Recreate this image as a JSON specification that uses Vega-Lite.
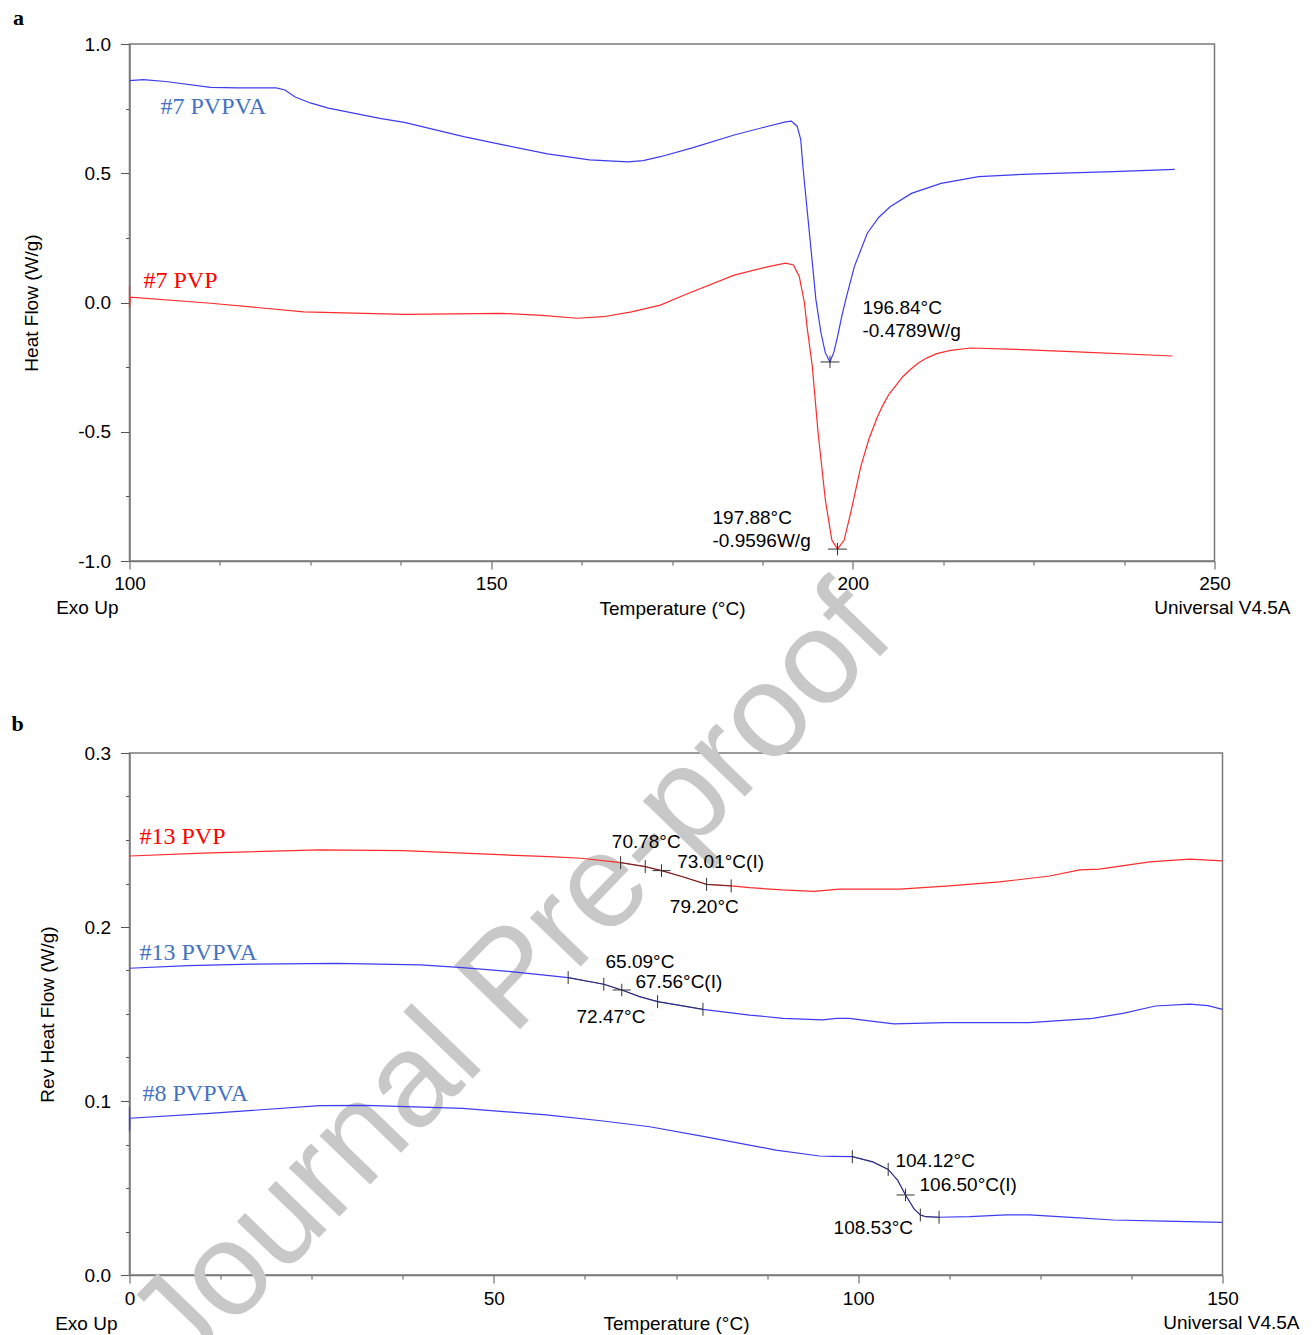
{
  "$schema": "https://vega.github.io/schema/vega-lite/v6.json",
  "padding": {"left": 10.5, "top": 6, "right": 5, "bottom": 0},
  "bounds": "flush",
  "spacing": 192,
  "resolve": {"scale": {"color": "independent"}},
  "config": {
    "font": "Liberation Sans",
    "view": {"stroke": "#7a7a7a", "strokeWidth": 1.5},
    "axis": {
      "domainColor": "#7a7a7a", "domainWidth": 1.5,
      "tickColor": "#555555", "tickWidth": 1,
      "labelFont": "Liberation Sans", "labelFontSize": 19, "labelColor": "#000000",
      "titleFont": "Liberation Sans", "titleFontSize": 19, "titleFontWeight": "normal", "titleColor": "#000000",
      "grid": false, "labelFlush": false, "labelOverlap": false
    }
  },
  "datasets": {
    "a": [
      {"s":"#7 PVPVA","T":100.0,"v":0.858},{"s":"#7 PVPVA","T":101.9,"v":0.862},{"s":"#7 PVPVA","T":105.0,"v":0.855},
      {"s":"#7 PVPVA","T":111.2,"v":0.832},{"s":"#7 PVPVA","T":115.0,"v":0.830},{"s":"#7 PVPVA","T":120.3,"v":0.830},
      {"s":"#7 PVPVA","T":121.5,"v":0.822},{"s":"#7 PVPVA","T":122.9,"v":0.795},{"s":"#7 PVPVA","T":125.0,"v":0.772},
      {"s":"#7 PVPVA","T":127.5,"v":0.752},{"s":"#7 PVPVA","T":134.6,"v":0.712},{"s":"#7 PVPVA","T":138.0,"v":0.697},
      {"s":"#7 PVPVA","T":146.2,"v":0.642},{"s":"#7 PVPVA","T":152.0,"v":0.608},{"s":"#7 PVPVA","T":157.8,"v":0.575},
      {"s":"#7 PVPVA","T":163.6,"v":0.552},{"s":"#7 PVPVA","T":168.9,"v":0.544},{"s":"#7 PVPVA","T":171.0,"v":0.549},
      {"s":"#7 PVPVA","T":173.4,"v":0.564},{"s":"#7 PVPVA","T":177.8,"v":0.598},{"s":"#7 PVPVA","T":183.6,"v":0.648},
      {"s":"#7 PVPVA","T":188.0,"v":0.680},{"s":"#7 PVPVA","T":190.7,"v":0.699},{"s":"#7 PVPVA","T":191.5,"v":0.702},
      {"s":"#7 PVPVA","T":192.3,"v":0.682},{"s":"#7 PVPVA","T":192.8,"v":0.630},{"s":"#7 PVPVA","T":193.1,"v":0.525},
      {"s":"#7 PVPVA","T":194.0,"v":0.268},{"s":"#7 PVPVA","T":194.9,"v":0.010},{"s":"#7 PVPVA","T":195.6,"v":-0.118},
      {"s":"#7 PVPVA","T":196.2,"v":-0.195},{"s":"#7 PVPVA","T":196.84,"v":-0.230},{"s":"#7 PVPVA","T":197.4,"v":-0.190},
      {"s":"#7 PVPVA","T":197.9,"v":-0.130},{"s":"#7 PVPVA","T":198.5,"v":-0.050},{"s":"#7 PVPVA","T":199.1,"v":0.020},
      {"s":"#7 PVPVA","T":200.2,"v":0.138},{"s":"#7 PVPVA","T":202.0,"v":0.268},{"s":"#7 PVPVA","T":203.6,"v":0.330},
      {"s":"#7 PVPVA","T":205.2,"v":0.371},{"s":"#7 PVPVA","T":208.1,"v":0.422},{"s":"#7 PVPVA","T":212.2,"v":0.461},
      {"s":"#7 PVPVA","T":217.4,"v":0.487},{"s":"#7 PVPVA","T":224.4,"v":0.497},{"s":"#7 PVPVA","T":236.0,"v":0.506},
      {"s":"#7 PVPVA","T":244.5,"v":0.515},
      {"s":"#7 PVP","T":100.0,"v":0.064},{"s":"#7 PVP","T":100.0,"v":-0.021},{"s":"#7 PVP","T":100.1,"v":0.021},
      {"s":"#7 PVP","T":111.2,"v":-0.003},{"s":"#7 PVP","T":124.1,"v":-0.036},{"s":"#7 PVP","T":138.0,"v":-0.046},
      {"s":"#7 PVP","T":151.4,"v":-0.042},{"s":"#7 PVP","T":157.0,"v":-0.050},{"s":"#7 PVP","T":161.9,"v":-0.061},
      {"s":"#7 PVP","T":165.5,"v":-0.055},{"s":"#7 PVP","T":169.4,"v":-0.036},{"s":"#7 PVP","T":173.4,"v":-0.010},
      {"s":"#7 PVP","T":176.7,"v":0.029},{"s":"#7 PVP","T":183.6,"v":0.106},{"s":"#7 PVP","T":188.5,"v":0.140},
      {"s":"#7 PVP","T":190.7,"v":0.152},{"s":"#7 PVP","T":191.8,"v":0.145},{"s":"#7 PVP","T":192.6,"v":0.100},
      {"s":"#7 PVP","T":193.3,"v":0.000},{"s":"#7 PVP","T":193.7,"v":-0.100},{"s":"#7 PVP","T":194.4,"v":-0.248},
      {"s":"#7 PVP","T":195.2,"v":-0.505},{"s":"#7 PVP","T":196.2,"v":-0.764},{"s":"#7 PVP","T":197.1,"v":-0.919},
      {"s":"#7 PVP","T":197.88,"v":-0.954},{"s":"#7 PVP","T":198.8,"v":-0.919},{"s":"#7 PVP","T":199.7,"v":-0.814},
      {"s":"#7 PVP","T":200.4,"v":-0.725},{"s":"#7 PVP","T":201.1,"v":-0.635},{"s":"#7 PVP","T":202.2,"v":-0.530},
      {"s":"#7 PVP","T":203.4,"v":-0.442},{"s":"#7 PVP","T":204.2,"v":-0.395},{"s":"#7 PVP","T":205.0,"v":-0.355},
      {"s":"#7 PVP","T":206.9,"v":-0.287},{"s":"#7 PVP","T":208.0,"v":-0.258},{"s":"#7 PVP","T":209.0,"v":-0.235},
      {"s":"#7 PVP","T":210.2,"v":-0.215},{"s":"#7 PVP","T":211.6,"v":-0.198},{"s":"#7 PVP","T":213.5,"v":-0.185},
      {"s":"#7 PVP","T":216.3,"v":-0.176},{"s":"#7 PVP","T":221.5,"v":-0.180},
      {"s":"#7 PVP","T":230.2,"v":-0.190},{"s":"#7 PVP","T":244.2,"v":-0.207}
    ],
    "ma": [
      {"s":"#7 PVPVA","T":196.84,"v":-0.230,"txt":"196.84°C\n-0.4789W/g"},
      {"s":"#7 PVP","T":197.88,"v":-0.954,"txt":"197.88°C\n-0.9596W/g"}
    ],
    "b": [
      {"s":"#13 PVP","T":0,"v":0.2408},{"s":"#13 PVP","T":10,"v":0.2425},{"s":"#13 PVP","T":26.1,"v":0.2443},
      {"s":"#13 PVP","T":37.6,"v":0.2439},{"s":"#13 PVP","T":51.5,"v":0.2414},{"s":"#13 PVP","T":57.6,"v":0.2405},
      {"s":"#13 PVP","T":62.0,"v":0.2395},{"s":"#13 PVP","T":67.4,"v":0.2370},{"s":"#13 PVP","T":70.78,"v":0.2347},
      {"s":"#13 PVP","T":73.01,"v":0.2324},{"s":"#13 PVP","T":75.9,"v":0.2289},{"s":"#13 PVP","T":79.2,"v":0.2245},
      {"s":"#13 PVP","T":82.57,"v":0.2236},{"s":"#13 PVP","T":85.1,"v":0.2226},{"s":"#13 PVP","T":89.6,"v":0.2213},
      {"s":"#13 PVP","T":93.9,"v":0.2205},{"s":"#13 PVP","T":97.4,"v":0.2218},{"s":"#13 PVP","T":105.7,"v":0.2218},
      {"s":"#13 PVP","T":112.5,"v":0.2236},{"s":"#13 PVP","T":119.4,"v":0.2259},{"s":"#13 PVP","T":126.3,"v":0.2293},
      {"s":"#13 PVP","T":130.4,"v":0.2328},{"s":"#13 PVP","T":133.1,"v":0.2333},{"s":"#13 PVP","T":140.0,"v":0.2374},
      {"s":"#13 PVP","T":145.5,"v":0.2390},{"s":"#13 PVP","T":150.0,"v":0.2380},
      {"s":"#13 PVPVA","T":0,"v":0.1763},{"s":"#13 PVPVA","T":8,"v":0.1778},{"s":"#13 PVPVA","T":16.8,"v":0.1787},
      {"s":"#13 PVPVA","T":28.4,"v":0.1791},{"s":"#13 PVPVA","T":39.9,"v":0.1782},{"s":"#13 PVPVA","T":45.7,"v":0.1766},
      {"s":"#13 PVPVA","T":52.0,"v":0.1745},{"s":"#13 PVPVA","T":57.6,"v":0.1720},{"s":"#13 PVPVA","T":60.2,"v":0.1709},
      {"s":"#13 PVPVA","T":65.09,"v":0.1671},{"s":"#13 PVPVA","T":67.56,"v":0.1638},{"s":"#13 PVPVA","T":70.0,"v":0.1600},
      {"s":"#13 PVPVA","T":72.47,"v":0.1571},{"s":"#13 PVPVA","T":75.5,"v":0.1550},{"s":"#13 PVPVA","T":78.7,"v":0.1527},
      {"s":"#13 PVPVA","T":85.1,"v":0.1494},{"s":"#13 PVPVA","T":89.7,"v":0.1475},{"s":"#13 PVPVA","T":95.1,"v":0.1466},
      {"s":"#13 PVPVA","T":97.0,"v":0.1475},{"s":"#13 PVPVA","T":98.8,"v":0.1475},{"s":"#13 PVPVA","T":101.5,"v":0.1460},
      {"s":"#13 PVPVA","T":104.9,"v":0.1443},{"s":"#13 PVPVA","T":111.9,"v":0.1450},{"s":"#13 PVPVA","T":123.5,"v":0.1450},
      {"s":"#13 PVPVA","T":132.2,"v":0.1475},{"s":"#13 PVPVA","T":136.5,"v":0.1505},{"s":"#13 PVPVA","T":140.8,"v":0.1546},
      {"s":"#13 PVPVA","T":145.5,"v":0.1557},{"s":"#13 PVPVA","T":148.0,"v":0.1548},{"s":"#13 PVPVA","T":150.0,"v":0.1527},
      {"s":"#8 PVPVA","T":0,"v":0.0966},{"s":"#8 PVPVA","T":0,"v":0.0828},{"s":"#8 PVPVA","T":0.05,"v":0.0901},
      {"s":"#8 PVPVA","T":11.0,"v":0.0929},{"s":"#8 PVPVA","T":26.1,"v":0.0973},{"s":"#8 PVPVA","T":32.4,"v":0.0975},
      {"s":"#8 PVPVA","T":45.7,"v":0.0958},{"s":"#8 PVPVA","T":57.2,"v":0.0920},{"s":"#8 PVPVA","T":65.0,"v":0.0885},
      {"s":"#8 PVPVA","T":71.4,"v":0.0852},{"s":"#8 PVPVA","T":78.9,"v":0.0795},{"s":"#8 PVPVA","T":88.7,"v":0.0718},
      {"s":"#8 PVPVA","T":94.7,"v":0.0684},{"s":"#8 PVPVA","T":96.5,"v":0.0682},{"s":"#8 PVPVA","T":99.2,"v":0.0680},
      {"s":"#8 PVPVA","T":102.0,"v":0.0650},{"s":"#8 PVPVA","T":104.12,"v":0.0607},{"s":"#8 PVPVA","T":105.4,"v":0.0546},
      {"s":"#8 PVPVA","T":106.5,"v":0.0460},{"s":"#8 PVPVA","T":107.7,"v":0.0378},{"s":"#8 PVPVA","T":108.53,"v":0.0345},
      {"s":"#8 PVPVA","T":109.3,"v":0.0335},{"s":"#8 PVPVA","T":111.1,"v":0.0332},{"s":"#8 PVPVA","T":115.3,"v":0.0335},
      {"s":"#8 PVPVA","T":120.3,"v":0.0345},{"s":"#8 PVPVA","T":123.5,"v":0.0345},{"s":"#8 PVPVA","T":129.2,"v":0.0331},
      {"s":"#8 PVPVA","T":135.0,"v":0.0316},{"s":"#8 PVPVA","T":142.0,"v":0.0310},{"s":"#8 PVPVA","T":150.0,"v":0.0303}
    ],
    "mb": [
      {"s":"#13 PVP","T":67.4,"v":0.2370,"k":"tick","txt":""},
      {"s":"#13 PVP","T":70.78,"v":0.2347,"k":"tick","txt":"70.78°C"},
      {"s":"#13 PVP","T":73.01,"v":0.2324,"k":"cross","txt":"73.01°C(I)"},
      {"s":"#13 PVP","T":79.2,"v":0.2245,"k":"tick","txt":"79.20°C"},
      {"s":"#13 PVP","T":82.57,"v":0.2236,"k":"tick","txt":""},
      {"s":"#13 PVPVA","T":60.2,"v":0.1709,"k":"tick","txt":""},
      {"s":"#13 PVPVA","T":65.09,"v":0.1671,"k":"tick","txt":"65.09°C"},
      {"s":"#13 PVPVA","T":67.56,"v":0.1638,"k":"cross","txt":"67.56°C(I)"},
      {"s":"#13 PVPVA","T":72.47,"v":0.1571,"k":"tick","txt":"72.47°C"},
      {"s":"#13 PVPVA","T":78.7,"v":0.1527,"k":"tick","txt":""},
      {"s":"#8 PVPVA","T":99.2,"v":0.0680,"k":"tick","txt":""},
      {"s":"#8 PVPVA","T":104.12,"v":0.0607,"k":"tick","txt":"104.12°C"},
      {"s":"#8 PVPVA","T":106.5,"v":0.0460,"k":"cross","txt":"106.50°C(I)"},
      {"s":"#8 PVPVA","T":108.53,"v":0.0345,"k":"tick","txt":"108.53°C"},
      {"s":"#8 PVPVA","T":111.1,"v":0.0332,"k":"tick","txt":""}
    ]
  },
  "vconcat": [
    {
      "width": 1085,
      "height": 517,
      "layer": [
        {
          "data": {"name": "a"},
          "mark": {"type": "line", "strokeWidth": 1.2},
          "encoding": {
            "x": {"field": "T", "type": "quantitative",
              "scale": {"domain": [100, 250], "nice": false, "zero": false},
              "axis": {"title": "Temperature (°C)", "format": "d",
                "values": [100, 112.5, 125, 137.5, 150, 162.5, 175, 187.5, 200, 212.5, 225, 237.5, 250],
                "labelExpr": "datum.value % 50 === 0 ? datum.label : ''",
                "tickSize": {"condition": {"test": "datum.value % 50 === 0", "value": 8}, "value": 4},
                "labelPadding": 5, "titlePadding": 6}},
            "y": {"field": "v", "type": "quantitative",
              "scale": {"domain": [-1, 1], "nice": false, "zero": false},
              "axis": {"title": "Heat Flow (W/g)", "format": ".1f",
                "values": [-1, -0.875, -0.75, -0.625, -0.5, -0.375, -0.25, -0.125, 0, 0.125, 0.25, 0.375, 0.5, 0.625, 0.75, 0.875, 1],
                "labelExpr": "abs(datum.value*2 - round(datum.value*2)) < 0.000001 ? replace(datum.label, '−', '-') : ''",
                "tickSize": {"condition": {"test": "abs(datum.value*2 - round(datum.value*2)) < 0.000001", "value": 9}, "value": 4},
                "labelPadding": 10, "titlePadding": 36}},
            "color": {"field": "s", "type": "nominal",
              "scale": {"domain": ["#7 PVPVA", "#7 PVP"], "range": ["#3c3cf2", "#ff2b2b"]}, "legend": null}
          }
        },
        {
          "data": {"name": "ma"},
          "mark": {"type": "point", "shape": "M-1,0H1M0,-0.65V0.65", "filled": false, "size": 361, "color": "#333333", "strokeWidth": 1, "opacity": 1},
          "encoding": {
            "x": {"field": "T", "type": "quantitative"},
            "y": {"field": "v", "type": "quantitative"}
          }
        },
        {
          "data": {"name": "ma"},
          "transform": [{"filter": "datum.T === 196.84"}],
          "mark": {"type": "text", "align": "left", "baseline": "middle", "lineBreak": "\n", "lineHeight": 23, "fontSize": 19, "color": "#000000", "dx": 32.5, "dy": -54},
          "encoding": {
            "x": {"field": "T", "type": "quantitative"},
            "y": {"field": "v", "type": "quantitative"},
            "text": {"field": "txt"}
          }
        },
        {
          "data": {"name": "ma"},
          "transform": [{"filter": "datum.T === 197.88"}],
          "mark": {"type": "text", "align": "left", "baseline": "middle", "lineBreak": "\n", "lineHeight": 23, "fontSize": 19, "color": "#000000", "dx": -125, "dy": -31},
          "encoding": {
            "x": {"field": "T", "type": "quantitative"},
            "y": {"field": "v", "type": "quantitative"},
            "text": {"field": "txt"}
          }
        },
        {
          "data": {"values": [{}]},
          "mark": {"type": "text", "align": "left", "baseline": "middle", "font": "Liberation Serif", "fontSize": 24, "color": "#4472c4", "dx": 31},
          "encoding": {
            "x": {"datum": 100, "type": "quantitative"},
            "y": {"datum": 0.756, "type": "quantitative"},
            "text": {"value": "#7 PVPVA"}
          }
        },
        {
          "data": {"values": [{}]},
          "mark": {"type": "text", "align": "left", "baseline": "middle", "font": "Liberation Serif", "fontSize": 24, "color": "#ff0000", "dx": 14},
          "encoding": {
            "x": {"datum": 100, "type": "quantitative"},
            "y": {"datum": 0.083, "type": "quantitative"},
            "text": {"value": "#7 PVP"}
          }
        },
        {
          "data": {"values": [{}]},
          "mark": {"type": "text", "align": "right", "baseline": "middle", "fontSize": 19, "color": "#000000", "dx": -11, "dy": 47},
          "encoding": {
            "x": {"datum": 100, "type": "quantitative"},
            "y": {"datum": -1, "type": "quantitative"},
            "text": {"value": "Exo Up"}
          }
        },
        {
          "data": {"values": [{}]},
          "mark": {"type": "text", "align": "right", "baseline": "middle", "fontSize": 19, "color": "#000000", "dx": 76, "dy": 47},
          "encoding": {
            "x": {"datum": 250, "type": "quantitative"},
            "y": {"datum": -1, "type": "quantitative"},
            "text": {"value": "Universal V4.5A"}
          }
        },
        {
          "data": {"values": [{}]},
          "mark": {"type": "text", "align": "center", "baseline": "middle", "font": "Liberation Serif", "fontWeight": "bold", "fontSize": 22, "color": "#000000", "dx": -111, "dy": -26},
          "encoding": {
            "x": {"datum": 100, "type": "quantitative"},
            "y": {"datum": 1, "type": "quantitative"},
            "text": {"value": "a"}
          }
        }
      ]
    },
    {
      "width": 1093,
      "height": 522,
      "layer": [
        {
          "data": {"values": [{}]},
          "mark": {"type": "text", "align": "center", "baseline": "middle", "fontSize": 133, "color": "#c8c8c8", "angle": -46},
          "encoding": {
            "x": {"datum": 52.5, "type": "quantitative"},
            "y": {"datum": 0.1695, "type": "quantitative"},
            "text": {"value": "Journal Pre-proof"}
          }
        },
        {
          "data": {"name": "b"},
          "mark": {"type": "line", "strokeWidth": 1.2},
          "encoding": {
            "x": {"field": "T", "type": "quantitative",
              "scale": {"domain": [0, 150], "nice": false, "zero": false},
              "axis": {"title": "Temperature (°C)", "format": "d",
                "values": [0, 12.5, 25, 37.5, 50, 62.5, 75, 87.5, 100, 112.5, 125, 137.5, 150],
                "labelExpr": "datum.value % 50 === 0 ? datum.label : ''",
                "tickSize": {"condition": {"test": "datum.value % 50 === 0", "value": 8}, "value": 4},
                "labelPadding": 6, "titlePadding": 6}},
            "y": {"field": "v", "type": "quantitative",
              "scale": {"domain": [0, 0.3], "nice": false, "zero": false},
              "axis": {"title": "Rev Heat Flow (W/g)", "format": ".1f",
                "values": [0, 0.025, 0.05, 0.075, 0.1, 0.125, 0.15, 0.175, 0.2, 0.225, 0.25, 0.275, 0.3],
                "labelExpr": "abs(datum.value*10 - round(datum.value*10)) < 0.000001 ? datum.label : ''",
                "tickSize": {"condition": {"test": "abs(datum.value*10 - round(datum.value*10)) < 0.000001", "value": 9}, "value": 4},
                "labelPadding": 10, "titlePadding": 27}},
            "color": {"field": "s", "type": "nominal",
              "scale": {"domain": ["#13 PVP", "#13 PVPVA", "#8 PVPVA"], "range": ["#ff2b2b", "#3c3cf2", "#3c3cf2"]}, "legend": null}
          }
        },
        {
          "data": {"name": "b"},
          "transform": [{"filter": "(datum.s === '#13 PVP' && datum.T >= 67.4 && datum.T <= 82.57) || (datum.s === '#13 PVPVA' && datum.T >= 60.2 && datum.T <= 78.7) || (datum.s === '#8 PVPVA' && datum.T >= 99.2 && datum.T <= 111.1)"}],
          "mark": {"type": "line", "strokeWidth": 1, "color": "#2a2a2a", "opacity": 0.75},
          "encoding": {
            "x": {"field": "T", "type": "quantitative"},
            "y": {"field": "v", "type": "quantitative"},
            "detail": {"field": "s", "type": "nominal"}
          }
        },
        {
          "data": {"name": "mb"},
          "transform": [{"filter": "datum.k === 'tick'"}],
          "mark": {"type": "point", "shape": "M0,-1V1", "filled": false, "size": 169, "color": "#333333", "strokeWidth": 1, "opacity": 1},
          "encoding": {
            "x": {"field": "T", "type": "quantitative"},
            "y": {"field": "v", "type": "quantitative"}
          }
        },
        {
          "data": {"name": "mb"},
          "transform": [{"filter": "datum.k === 'cross'"}],
          "mark": {"type": "point", "shape": "M-1,0H1M0,-0.7V0.7", "filled": false, "size": 324, "color": "#333333", "strokeWidth": 1, "opacity": 1},
          "encoding": {
            "x": {"field": "T", "type": "quantitative"},
            "y": {"field": "v", "type": "quantitative"}
          }
        },
        {
          "data": {"name": "mb"},
          "transform": [{"filter": "datum.T === 70.78"}],
          "mark": {"type": "text", "align": "center", "baseline": "middle", "fontSize": 19, "color": "#000000", "dx": 1, "dy": -25},
          "encoding": {"x": {"field": "T", "type": "quantitative"}, "y": {"field": "v", "type": "quantitative"}, "text": {"field": "txt"}}
        },
        {
          "data": {"name": "mb"},
          "transform": [{"filter": "datum.T === 73.01"}],
          "mark": {"type": "text", "align": "left", "baseline": "middle", "fontSize": 19, "color": "#000000", "dx": 15.7, "dy": -9},
          "encoding": {"x": {"field": "T", "type": "quantitative"}, "y": {"field": "v", "type": "quantitative"}, "text": {"field": "txt"}}
        },
        {
          "data": {"name": "mb"},
          "transform": [{"filter": "datum.T === 79.2"}],
          "mark": {"type": "text", "align": "center", "baseline": "middle", "fontSize": 19, "color": "#000000", "dx": -2.3, "dy": 22.3},
          "encoding": {"x": {"field": "T", "type": "quantitative"}, "y": {"field": "v", "type": "quantitative"}, "text": {"field": "txt"}}
        },
        {
          "data": {"name": "mb"},
          "transform": [{"filter": "datum.T === 65.09"}],
          "mark": {"type": "text", "align": "center", "baseline": "middle", "fontSize": 19, "color": "#000000", "dx": 36.2, "dy": -22.5},
          "encoding": {"x": {"field": "T", "type": "quantitative"}, "y": {"field": "v", "type": "quantitative"}, "text": {"field": "txt"}}
        },
        {
          "data": {"name": "mb"},
          "transform": [{"filter": "datum.T === 67.56"}],
          "mark": {"type": "text", "align": "left", "baseline": "middle", "fontSize": 19, "color": "#000000", "dx": 13.7, "dy": -8.3},
          "encoding": {"x": {"field": "T", "type": "quantitative"}, "y": {"field": "v", "type": "quantitative"}, "text": {"field": "txt"}}
        },
        {
          "data": {"name": "mb"},
          "transform": [{"filter": "datum.T === 72.47"}],
          "mark": {"type": "text", "align": "center", "baseline": "middle", "fontSize": 19, "color": "#000000", "dx": -46.6, "dy": 15.1},
          "encoding": {"x": {"field": "T", "type": "quantitative"}, "y": {"field": "v", "type": "quantitative"}, "text": {"field": "txt"}}
        },
        {
          "data": {"name": "mb"},
          "transform": [{"filter": "datum.T === 104.12"}],
          "mark": {"type": "text", "align": "left", "baseline": "middle", "fontSize": 19, "color": "#000000", "dx": 7.3, "dy": -8.7},
          "encoding": {"x": {"field": "T", "type": "quantitative"}, "y": {"field": "v", "type": "quantitative"}, "text": {"field": "txt"}}
        },
        {
          "data": {"name": "mb"},
          "transform": [{"filter": "datum.T === 106.5"}],
          "mark": {"type": "text", "align": "left", "baseline": "middle", "fontSize": 19, "color": "#000000", "dx": 14, "dy": -10},
          "encoding": {"x": {"field": "T", "type": "quantitative"}, "y": {"field": "v", "type": "quantitative"}, "text": {"field": "txt"}}
        },
        {
          "data": {"name": "mb"},
          "transform": [{"filter": "datum.T === 108.53"}],
          "mark": {"type": "text", "align": "center", "baseline": "middle", "fontSize": 19, "color": "#000000", "dx": -47, "dy": 13.3},
          "encoding": {"x": {"field": "T", "type": "quantitative"}, "y": {"field": "v", "type": "quantitative"}, "text": {"field": "txt"}}
        },
        {
          "data": {"values": [{}]},
          "mark": {"type": "text", "align": "left", "baseline": "middle", "font": "Liberation Serif", "fontSize": 24, "color": "#ff0000", "dx": 10},
          "encoding": {
            "x": {"datum": 0, "type": "quantitative"},
            "y": {"datum": 0.2517, "type": "quantitative"},
            "text": {"value": "#13 PVP"}
          }
        },
        {
          "data": {"values": [{}]},
          "mark": {"type": "text", "align": "left", "baseline": "middle", "font": "Liberation Serif", "fontSize": 24, "color": "#4472c4", "dx": 10},
          "encoding": {
            "x": {"datum": 0, "type": "quantitative"},
            "y": {"datum": 0.1851, "type": "quantitative"},
            "text": {"value": "#13 PVPVA"}
          }
        },
        {
          "data": {"values": [{}]},
          "mark": {"type": "text", "align": "left", "baseline": "middle", "font": "Liberation Serif", "fontSize": 24, "color": "#4472c4", "dx": 13},
          "encoding": {
            "x": {"datum": 0, "type": "quantitative"},
            "y": {"datum": 0.104, "type": "quantitative"},
            "text": {"value": "#8 PVPVA"}
          }
        },
        {
          "data": {"values": [{}]},
          "mark": {"type": "text", "align": "right", "baseline": "middle", "fontSize": 19, "color": "#000000", "dx": -12, "dy": 49},
          "encoding": {
            "x": {"datum": 0, "type": "quantitative"},
            "y": {"datum": 0, "type": "quantitative"},
            "text": {"value": "Exo Up"}
          }
        },
        {
          "data": {"values": [{}]},
          "mark": {"type": "text", "align": "right", "baseline": "middle", "fontSize": 19, "color": "#000000", "dx": 77, "dy": 48},
          "encoding": {
            "x": {"datum": 150, "type": "quantitative"},
            "y": {"datum": 0, "type": "quantitative"},
            "text": {"value": "Universal V4.5A"}
          }
        },
        {
          "data": {"values": [{}]},
          "mark": {"type": "text", "align": "center", "baseline": "middle", "font": "Liberation Serif", "fontWeight": "bold", "fontSize": 22, "color": "#000000", "dx": -112, "dy": -29},
          "encoding": {
            "x": {"datum": 0, "type": "quantitative"},
            "y": {"datum": 0.3, "type": "quantitative"},
            "text": {"value": "b"}
          }
        }
      ]
    }
  ]
}
